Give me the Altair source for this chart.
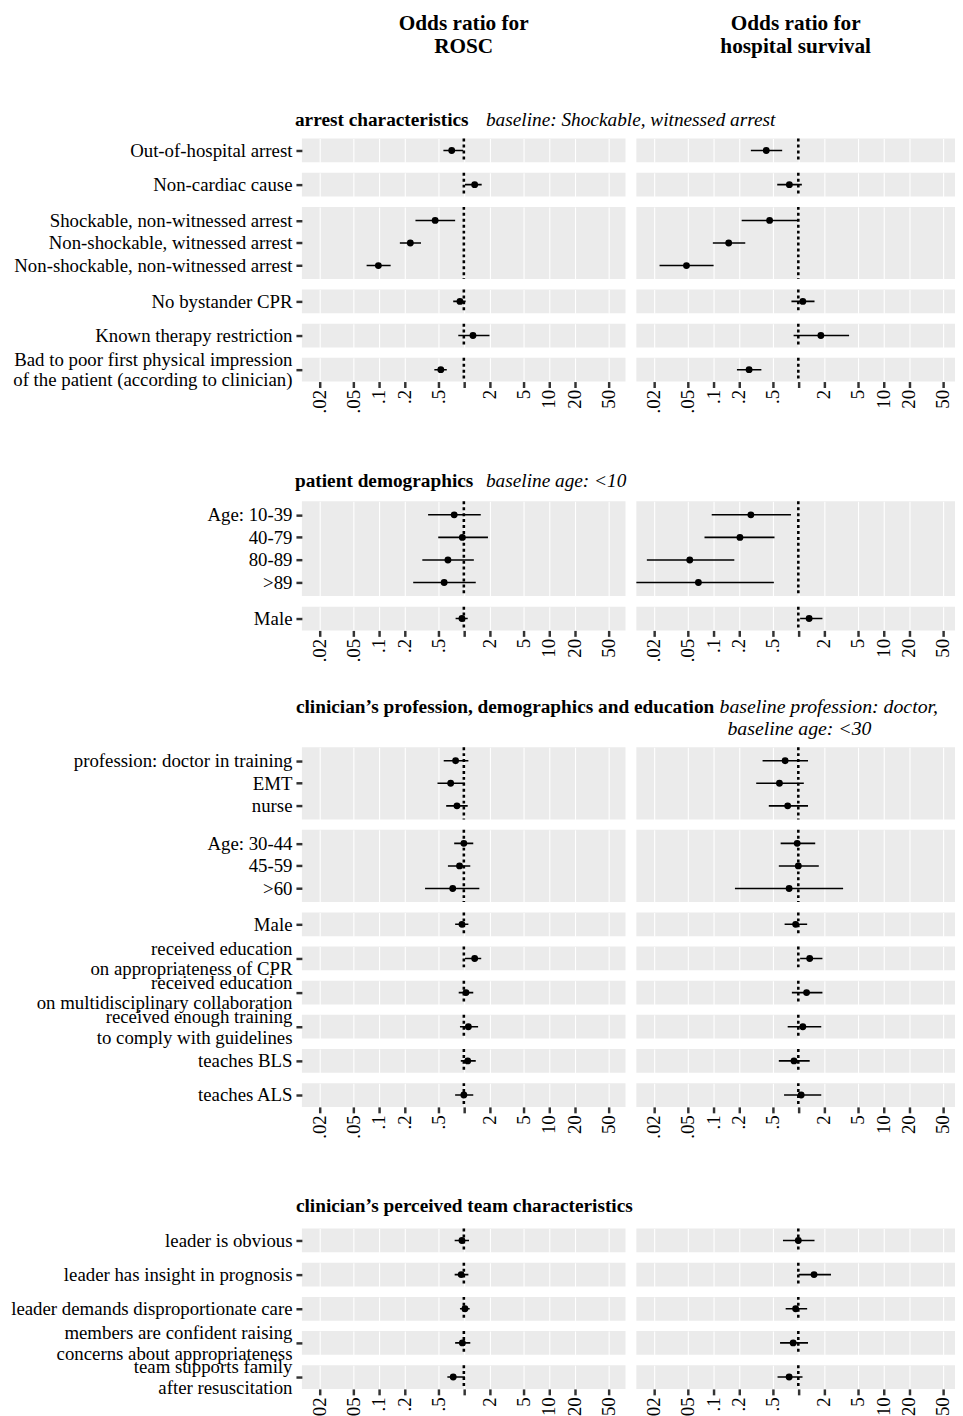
import altair as alt
import pandas as pd

FONT = "Liberation Serif"

# ---------------- data ----------------
col_title_left = "Odds ratio for\nROSC"
col_title_right = "Odds ratio for\nhospital survival"

tick_values = [0.02, 0.05, 0.1, 0.2, 0.5, 1, 2, 5, 10, 20, 50]
tick_labels = [".02", ".05", ".1", ".2", ".5", "", "2", "5", "10", "20", "50"]

# section 1
arrest_title = "arrest characteristics"
arrest_baseline = "baseline: Shockable, witnessed arrest"
arrest_labels = ["Out-of-hospital arrest", "Non-cardiac cause",
                 "Shockable, non-witnessed arrest", "Non-shockable, witnessed arrest",
                 "Non-shockable, non-witnessed arrest", "No bystander CPR",
                 "Known therapy restriction",
                 "Bad to poor first physical impression\nof the patient (according to clinician)"]
arrest_panel = [1, 2, 3, 3, 3, 4, 5, 6]
arrest_rosc = [0.72, 1.34, 0.46, 0.235, 0.099, 0.90, 1.28, 0.536]
arrest_rosc_lo = [0.575, 1.03, 0.27, 0.177, 0.072, 0.75, 0.86, 0.45]
arrest_rosc_hi = [0.98, 1.62, 0.79, 0.314, 0.138, 1.05, 2.0, 0.63]
arrest_surv = [0.42, 0.785, 0.46, 0.152, 0.0485, 1.13, 1.84, 0.264]
arrest_surv_lo = [0.277, 0.565, 0.216, 0.099, 0.0234, 0.83, 0.88, 0.19]
arrest_surv_hi = [0.646, 1.10, 0.985, 0.238, 0.101, 1.55, 3.95, 0.368]

# section 2
demo_title = "patient demographics"
demo_baseline = "baseline age: <10"
demo_labels = ["Age: 10-39", "40-79", "80-89", ">89", "Male"]
demo_panel = [1, 1, 1, 1, 2]
demo_rosc = [0.77, 0.96, 0.65, 0.587, 0.95]
demo_rosc_lo = [0.38, 0.50, 0.325, 0.254, 0.80]
demo_rosc_hi = [1.58, 1.92, 1.31, 1.38, 1.11]
demo_surv = [0.277, 0.206, 0.053, 0.067, 1.34]
demo_surv_lo = [0.096, 0.079, 0.0166, 0.011, 1.05]
demo_surv_hi = [0.82, 0.525, 0.177, 0.516, 1.92]

# section 3
clin_title = "clinician\u2019s profession, demographics and education"
clin_baseline_1 = "baseline profession: doctor,"
clin_baseline_2 = "baseline age: <30"
clin_labels = ["profession: doctor in training", "EMT", "nurse",
               "Age: 30-44", "45-59", ">60", "Male",
               "received education\non appropriateness of CPR",
               "received education\non multidisciplinary collaboration",
               "received enough training\nto comply with guidelines",
               "teaches BLS", "teaches ALS"]
clin_panel = [1, 1, 1, 2, 2, 2, 3, 4, 5, 6, 7, 8]
clin_rosc = [0.80, 0.70, 0.83, 1.0, 0.89, 0.74, 0.95, 1.34, 1.06, 1.13, 1.11, 1.0]
clin_rosc_lo = [0.58, 0.49, 0.62, 0.77, 0.65, 0.35, 0.79, 1.03, 0.87, 0.90, 0.92, 0.79]
clin_rosc_hi = [1.13, 1.03, 1.11, 1.29, 1.19, 1.52, 1.13, 1.60, 1.29, 1.47, 1.38, 1.29]
clin_surv = [0.70, 0.60, 0.75, 0.97, 1.0, 0.78, 0.93, 1.36, 1.25, 1.13, 0.89, 1.08]
clin_surv_lo = [0.38, 0.32, 0.45, 0.62, 0.59, 0.18, 0.69, 1.05, 0.84, 0.75, 0.59, 0.68]
clin_surv_hi = [1.30, 1.16, 1.30, 1.58, 1.74, 3.36, 1.27, 1.92, 1.92, 1.86, 1.36, 1.86]

# section 4
team_title = "clinician\u2019s perceived team characteristics"
team_labels = ["leader is obvious", "leader has insight in prognosis",
               "leader demands disproportionate care",
               "members are confident raising\nconcerns about appropriateness",
               "team supports family\nafter resuscitation"]
team_panel = [1, 2, 3, 4, 5]
team_rosc = [0.95, 0.93, 1.03, 0.96, 0.75]
team_rosc_lo = [0.78, 0.78, 0.90, 0.79, 0.64]
team_rosc_hi = [1.15, 1.13, 1.17, 1.19, 1.03]
team_surv = [1.0, 1.53, 0.93, 0.87, 0.78]
team_surv_lo = [0.66, 1.01, 0.71, 0.61, 0.57]
team_surv_hi = [1.55, 2.42, 1.27, 1.30, 1.12]

# ---------------- layout constants ----------------
LO = 0.0125
PX_PER_DEC = 86
W_LEFT = 327
W_RIGHT = 322
GAP_H = 11
HI_LEFT = LO * 10 ** (W_LEFT / PX_PER_DEC)
HI_RIGHT = LO * 10 ** (W_RIGHT / PX_PER_DEC)
ROW_STEP = 22.8
ONE_ROW_H = 24
LABEL_SIZE = 19
LINE_H = 21

tick_expr = "".join(f"datum.value == {v} ? '{l}' : " for v, l in zip(tick_values, tick_labels)) + "''"


def section_df(labels, panel, r, rl, rh, s, sl, sh):
    return pd.DataFrame({"label": labels, "panel": panel,
                         "rosc": r, "rosc_lo": rl, "rosc_hi": rh,
                         "surv": s, "surv_lo": sl, "surv_hi": sh})


def make_panel(df, which, width, hi, height, last, left):
    labels = list(df["label"])
    xs = alt.Scale(type="log", domain=[LO, hi], nice=False, zero=False)
    xaxis = alt.Axis(values=tick_values, labelExpr=tick_expr, grid=True,
                     gridColor="white", gridWidth=1.1, domain=False,
                     labels=last, ticks=last, tickSize=6, tickWidth=2.5,
                     tickColor="#333333", labelAngle=-90, labelFont=FONT,
                     labelFontSize=LABEL_SIZE, labelColor="black", labelPadding=2,
                     title=None)
    if left:
        yaxis = alt.Axis(labelExpr="split(datum.label, '\\n')", labelFont=FONT,
                         labelFontSize=LABEL_SIZE, labelColor="black", labelLimit=500,
                         labelLineHeight=LINE_H, labelPadding=4, tickSize=6,
                         tickWidth=2.5, tickColor="#333333", domain=False,
                         labelOffset={"condition": {"test": "indexof(datum.label, '\\n') >= 0",
                                                    "value": -LINE_H / 2},
                                      "value": 0},
                         grid=False, title=None)
    else:
        yaxis = None
    ycfg = alt.Y("label:N", scale=alt.Scale(type="point", domain=labels, padding=0.6),
                 axis=yaxis, title=None)
    ref = alt.Chart(pd.DataFrame({"ref": [1]})).mark_rule(
        color="black", strokeWidth=2.6, strokeDash=[3, 3]
    ).encode(x=alt.X("ref:Q", scale=xs, axis=xaxis))
    bars = alt.Chart(df).mark_rule(color="black", strokeWidth=1.6, clip=True).encode(
        x=alt.X(f"{which}_lo:Q", scale=xs, axis=xaxis),
        x2=f"{which}_hi:Q",
        y=ycfg,
    )
    pts = alt.Chart(df).mark_circle(color="black", opacity=1, size=48, clip=True).encode(
        x=alt.X(f"{which}:Q", scale=xs, axis=xaxis),
        y=ycfg,
    )
    return alt.layer(ref, bars, pts).properties(
        width=width, height=height, view=alt.ViewBackground(fill="#EBEBEB"))


def section_cells(df):
    cells = []
    panels = sorted(df["panel"].unique())
    for i, p in enumerate(panels):
        sub = df[df["panel"] == p]
        n = len(sub)
        h = ONE_ROW_H if n == 1 else ROW_STEP * (n - 1 + 1.2)
        last = i == len(panels) - 1
        cells.append(make_panel(sub, "rosc", W_LEFT, HI_LEFT, h, last, True))
        cells.append(make_panel(sub, "surv", W_RIGHT, HI_RIGHT, h, last, False))
    return cells


def text_layer(txt, x, y, weight="normal", style="normal", size=19.5, align="left",
               line_height=None, baseline="middle"):
    kw = dict(font=FONT, fontSize=size, fontWeight=weight, fontStyle=style,
              align=align, baseline=baseline, color="black")
    if line_height:
        kw["lineBreak"] = "\n"
        kw["lineHeight"] = line_height
    return alt.Chart(pd.DataFrame({"t": [txt]})).mark_text(**kw).encode(
        x=alt.value(x), y=alt.value(y), text="t:N")


def header(width, height, layers):
    return alt.layer(*layers).properties(width=width, height=height)


def empty(width, height):
    return header(width, height, [text_layer("", 0, 10)])


df1 = section_df(arrest_labels, arrest_panel, arrest_rosc, arrest_rosc_lo, arrest_rosc_hi,
                 arrest_surv, arrest_surv_lo, arrest_surv_hi)
df2 = section_df(demo_labels, demo_panel, demo_rosc, demo_rosc_lo, demo_rosc_hi,
                 demo_surv, demo_surv_lo, demo_surv_hi)
df3 = section_df(clin_labels, clin_panel, clin_rosc, clin_rosc_lo, clin_rosc_hi,
                 clin_surv, clin_surv_lo, clin_surv_hi)
df4 = section_df(team_labels, team_panel, team_rosc, team_rosc_lo, team_rosc_hi,
                 team_surv, team_surv_lo, team_surv_hi)

H0, H2, H3, H4 = 117.5, 99.5, 96.5, 101.5

h0_left = header(W_LEFT, H0, [
    text_layer(col_title_left, W_LEFT / 2, 2, weight="bold", size=21.5, align="center",
               line_height=23, baseline="top"),
    text_layer(arrest_title, -7, 110, weight="bold"),
    text_layer(arrest_baseline, 186, 110, style="italic"),
])
h0_right = header(W_RIGHT, H0, [
    text_layer(col_title_right, W_RIGHT / 2, 2, weight="bold", size=21.5, align="center",
               line_height=23, baseline="top"),
])
h2_left = header(W_LEFT, H2, [
    text_layer(demo_title, -7, 90, weight="bold"),
    text_layer(demo_baseline, 186, 90, style="italic"),
])
h3_left = header(W_LEFT, H3, [
    text_layer(clin_title, -6, 67, weight="bold"),
])
h3_right = header(W_RIGHT, H3, [
    text_layer(clin_baseline_1, 84, 67, style="italic", size=20),
    text_layer(clin_baseline_2, 92, 89, style="italic", size=20),
])
h4_left = header(W_LEFT, H4, [
    text_layer(team_title, -6, 90, weight="bold"),
])

cells = ([h0_left, h0_right] + section_cells(df1)
         + [h2_left, empty(W_RIGHT, H2)] + section_cells(df2)
         + [h3_left, h3_right] + section_cells(df3)
         + [h4_left, empty(W_RIGHT, H4)] + section_cells(df4))

chart = alt.concat(*cells, columns=2, spacing={"row": 10.5, "column": GAP_H},
                   bounds="flush", align="each").properties(
    padding={"left": 2, "top": -4, "right": 0, "bottom": 0}
).configure_view(strokeWidth=0)

chart.save("out.html", embed_options={"renderer": "svg", "actions": False})
